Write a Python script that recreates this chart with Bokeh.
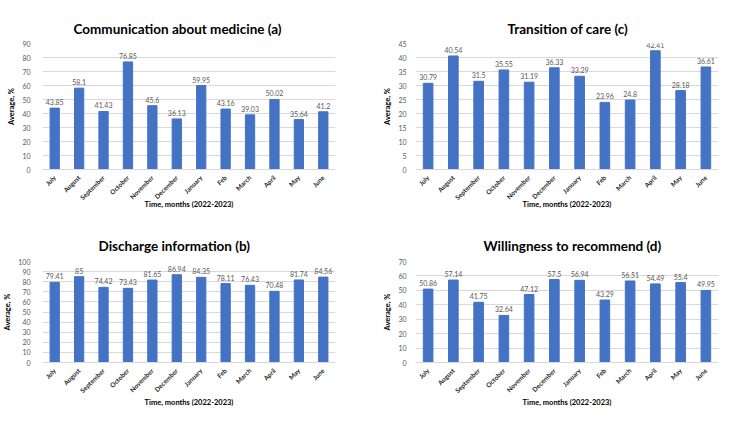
import math
from bokeh.plotting import figure
from bokeh.layouts import gridplot
from bokeh.models import ColumnDataSource, FixedTicker, Range1d, FactorRange
from bokeh.core.properties import value
from bokeh.embed import file_html
from bokeh.resources import INLINE

months = ["July", "August", "September", "October", "November", "December",
          "January", "Feb", "March", "April", "May", "June"]
medicine = [43.85, 58.1, 41.43, 76.85, 45.6, 36.13, 59.95, 43.16, 39.03, 50.02, 35.64, 41.2]
transition = [30.79, 40.54, 31.5, 35.55, 31.19, 36.33, 33.29, 23.96, 24.8, 42.41, 28.18, 36.61]
discharge = [79.41, 85, 74.42, 73.43, 81.65, 86.94, 84.35, 78.11, 76.43, 70.48, 81.74, 84.56]
recommend = [50.86, 57.14, 41.75, 32.64, 47.12, 57.5, 56.94, 43.29, 56.51, 54.49, 55.4, 49.95]

FONT = "Lato"
BAR = "#4472C4"


def make(title, vals, ymax, step, w, h, left, right, top, bottom, ystand, xlab_stand,
         t_off, t_stand):
    src = ColumnDataSource(dict(m=months, v=vals, t=[f"{x:g}" for x in vals]))
    p = figure(x_range=FactorRange(*months, range_padding=0), y_range=Range1d(0, ymax),
               width=w, height=h, output_backend="svg", toolbar_location=None,
               min_border_left=left, min_border_right=right,
               min_border_top=top, min_border_bottom=bottom)
    p.title.text = title
    p.title.align = "left"
    p.title.offset = t_off
    p.title.text_font = FONT
    p.title.text_font_size = "13.5px"
    p.title.text_font_style = "bold"
    p.title.text_color = "#000000"
    p.title.standoff = t_stand
    p.vbar(x="m", top="v", width=0.38, color=BAR, source=src)
    p.text(x="m", y="v", text="t", source=src, text_align="center", text_baseline="bottom",
           y_offset=-3, text_font=value(FONT), text_font_size="7px", text_color="#595959")
    p.outline_line_color = None
    p.xgrid.grid_line_color = None
    p.ygrid.grid_line_color = "#d9d9d9"
    p.yaxis.ticker = FixedTicker(ticks=list(range(0, ymax + 1, step)))
    p.yaxis.axis_line_color = None
    p.yaxis.major_tick_line_color = None
    p.yaxis.minor_tick_line_color = None
    p.yaxis.major_label_text_font = FONT
    p.yaxis.major_label_text_font_size = "7px"
    p.yaxis.major_label_text_color = "#595959"
    p.yaxis.major_label_standoff = ystand
    p.yaxis.axis_label = "Average, %"
    p.yaxis.axis_label_text_font = FONT
    p.yaxis.axis_label_text_font_size = "7.5px"
    p.yaxis.axis_label_text_font_style = "bold"
    p.yaxis.axis_label_text_color = "#000000"
    p.yaxis.axis_label_standoff = 3
    p.xaxis.axis_line_color = "#d9d9d9"
    p.xaxis.major_tick_line_color = None
    p.xaxis.minor_tick_line_color = None
    p.xaxis.major_label_orientation = math.pi / 4
    p.xaxis.major_label_text_font = FONT
    p.xaxis.major_label_text_font_size = "6.5px"
    p.xaxis.major_label_text_font_style = "bold"
    p.xaxis.major_label_text_color = "#262626"
    p.xaxis.major_label_standoff = 1
    p.xaxis.axis_label = "Time, months (2022-2023)"
    p.xaxis.axis_label_text_font = FONT
    p.xaxis.axis_label_text_font_size = "7.5px"
    p.xaxis.axis_label_text_font_style = "bold"
    p.xaxis.axis_label_text_color = "#000000"
    p.xaxis.axis_label_standoff = xlab_stand
    return p


pa = make("Communication about medicine (a)", medicine, 90, 10, 375, 211,
          42, 40, 43, 38, 6, -7, 31, 14)
pc = make("Transition of care (c)", transition, 45, 5, 375, 211,
          40, 32, 43, 38, 3, -7, 92, 14)
pb = make("Discharge information (b)", discharge, 100, 10, 375, 211,
          42, 40, 50, 60, 6, -2, 56, 15)
pd = make("Willingness to recommend (d)", recommend, 70, 10, 375, 211,
          37, 32, 50, 60, 3, -2, 68, 15)

grid = gridplot([[pa, pc], [pb, pd]], toolbar_location=None)
open("out.html", "w").write(file_html(grid, INLINE))
